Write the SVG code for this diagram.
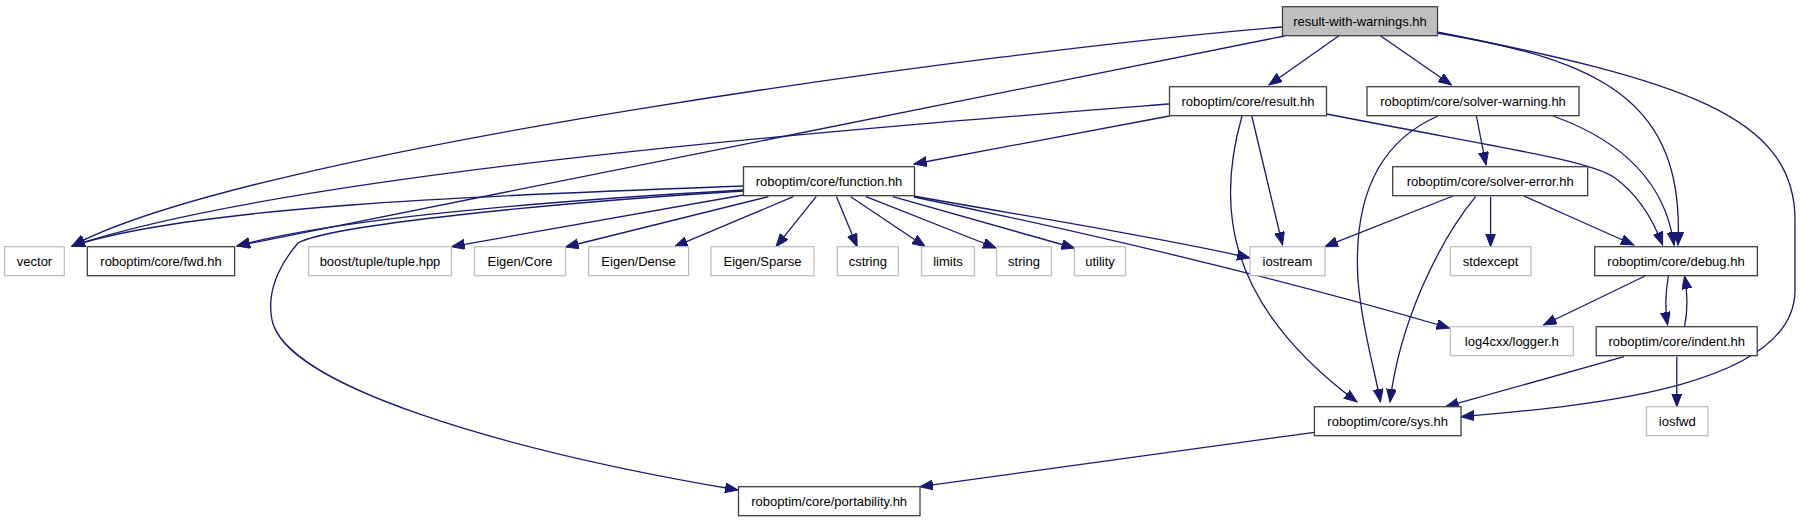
<svg xmlns="http://www.w3.org/2000/svg" width="1802" height="523" viewBox="0 0 1802 523">
<style>
.n rect{fill:#fff;stroke:#404040;stroke-width:1.3}
.n.ext rect{stroke:#bfbfbf}
.n.root rect{fill:#bfbfbf}
.n text{font-family:"Liberation Sans",Arial,sans-serif;font-size:13px;fill:#000;text-anchor:middle}
.e path{fill:none;stroke:#191970;stroke-width:1.3;marker-end:url(#ah)}
</style>
<defs>
<marker id="ah" markerUnits="userSpaceOnUse" markerWidth="14" markerHeight="11" refX="13" refY="5" orient="auto">
<path d="M0,0 L13,5 L0,10 z" fill="#191970" stroke="#191970" stroke-width="1"/>
</marker>
</defs>
<rect width="1802" height="523" fill="#fff"/>
<g id="edges" class="e">
<path d="M1282,27 C1000,50 250,150 72,246"/>
<path d="M1169,104 C900,125 300,170 72,246"/>
<path d="M743.5,186 C500,195 200,205 72,246"/>
<path d="M1284.5,36 L237,246"/>
<path d="M743.5,190 C600,198 350,215 237,246"/>
<path d="M743.5,191 C550,203 330,225 298,243 C282,262 266,290 272,320 C285,385 500,450 738,490"/>
<path d="M743.5,195 L451.6,246.7"/>
<path d="M768.4,196.7 L565.6,247"/>
<path d="M793.3,196.7 L674.6,246.7"/>
<path d="M816.2,196.7 L776,246.7"/>
<path d="M836.5,196.7 L857.2,246.7"/>
<path d="M850.7,196.7 L925.3,246.7"/>
<path d="M866,196.7 L996,248"/>
<path d="M892.8,196.7 L1074.5,248"/>
<path d="M914,196 C1000,212 1150,235 1250,258"/>
<path d="M914,197 C1050,225 1250,270 1449.5,328"/>
<path d="M1169.4,116 L913.8,164"/>
<path d="M1251.8,116 L1282.5,245"/>
<path d="M1242,116 C1218,200 1220,300 1357,402"/>
<path d="M1326.7,114 C1500,148 1590,160 1615,178 C1640,196 1655,225 1662.6,245"/>
<path d="M1339,35.7 L1269,85"/>
<path d="M1380.4,35.7 L1451.5,85"/>
<path d="M1476.4,116 L1486,165"/>
<path d="M1438,116 C1360,150 1355,230 1358,280 C1362,330 1375,370 1380.4,402"/>
<path d="M1553,116 C1620,140 1665,180 1674,245"/>
<path d="M1437,33 C1600,60 1685,100 1678,245"/>
<path d="M1437,32 C1680,80 1795,115 1795,220 L1795,290 C1795,385 1600,405 1461,416.7"/>
<path d="M1453,196 L1324.8,246.7"/>
<path d="M1475.6,196.7 C1440,240 1400,320 1390,402"/>
<path d="M1490.6,196.7 L1490.6,246.7"/>
<path d="M1524,196 L1633.8,245"/>
<path d="M1645,276 L1543.6,325"/>
<path d="M1668.4,276 C1665,295 1665,310 1667.6,325"/>
<path d="M1684.5,326.7 C1688,310 1688,295 1684.5,276"/>
<path d="M1624,356.7 L1445.7,406.7"/>
<path d="M1676.8,356.7 L1676.8,406.7"/>
<path d="M1314.4,432.3 L920,486.7"/>
</g>
<g id="rw" class="n root"><rect x="1282.5" y="6.7" width="155" height="29"/><text x="1360" y="25.7">result-with-warnings.hh</text></g>
<g id="result" class="n"><rect x="1169.5" y="86.7" width="157" height="29"/><text x="1248" y="105.7">roboptim/core/result.hh</text></g>
<g id="solverwarning" class="n"><rect x="1367" y="86.7" width="212" height="29"/><text x="1473" y="105.7">roboptim/core/solver-warning.hh</text></g>
<g id="function" class="n"><rect x="743.5" y="166.7" width="171" height="29"/><text x="829" y="185.7">roboptim/core/function.hh</text></g>
<g id="solvererror" class="n"><rect x="1392.7" y="166.7" width="195" height="29"/><text x="1490.2" y="185.7">roboptim/core/solver-error.hh</text></g>
<g id="vector" class="n ext"><rect x="4.6" y="246.7" width="59.7" height="29"/><text x="34.5" y="265.7">vector</text></g>
<g id="fwd" class="n"><rect x="87.3" y="246.7" width="147.3" height="29"/><text x="161" y="265.7">roboptim/core/fwd.hh</text></g>
<g id="boost" class="n ext"><rect x="308.5" y="246.7" width="143" height="29"/><text x="380" y="265.7">boost/tuple/tuple.hpp</text></g>
<g id="eigencore" class="n ext"><rect x="474.5" y="246.7" width="91" height="29"/><text x="520" y="265.7">Eigen/Core</text></g>
<g id="eigendense" class="n ext"><rect x="588.6" y="246.7" width="100" height="29"/><text x="638.6" y="265.7">Eigen/Dense</text></g>
<g id="eigensparse" class="n ext"><rect x="711" y="246.7" width="103" height="29"/><text x="762.5" y="265.7">Eigen/Sparse</text></g>
<g id="cstring" class="n ext"><rect x="837.3" y="246.7" width="61" height="29"/><text x="867.8" y="265.7">cstring</text></g>
<g id="limits" class="n ext"><rect x="921.5" y="246.7" width="53" height="29"/><text x="948" y="265.7">limits</text></g>
<g id="string" class="n ext"><rect x="996.5" y="246.7" width="55" height="29"/><text x="1024" y="265.7">string</text></g>
<g id="utility" class="n ext"><rect x="1074.5" y="246.7" width="51" height="29"/><text x="1100" y="265.7">utility</text></g>
<g id="iostream" class="n ext"><rect x="1250" y="246.7" width="75" height="29"/><text x="1287.5" y="265.7">iostream</text></g>
<g id="stdexcept" class="n ext"><rect x="1450.3" y="246.7" width="80.7" height="29"/><text x="1490.6" y="265.7">stdexcept</text></g>
<g id="debug" class="n"><rect x="1594.7" y="246.7" width="162.7" height="29"/><text x="1676" y="265.7">roboptim/core/debug.hh</text></g>
<g id="log4cxx" class="n ext"><rect x="1450.3" y="326.7" width="123" height="29"/><text x="1511.8" y="345.7">log4cxx/logger.h</text></g>
<g id="indent" class="n"><rect x="1596.2" y="326.7" width="161" height="29"/><text x="1676.7" y="345.7">roboptim/core/indent.hh</text></g>
<g id="sys" class="n"><rect x="1314.4" y="406.7" width="146.6" height="29"/><text x="1387.7" y="425.7">roboptim/core/sys.hh</text></g>
<g id="iosfwd" class="n ext"><rect x="1646.5" y="406.7" width="61.4" height="29"/><text x="1677.2" y="425.7">iosfwd</text></g>
<g id="portability" class="n"><rect x="738.5" y="486.7" width="181.5" height="29"/><text x="829.2" y="505.7">roboptim/core/portability.hh</text></g>
</svg>
